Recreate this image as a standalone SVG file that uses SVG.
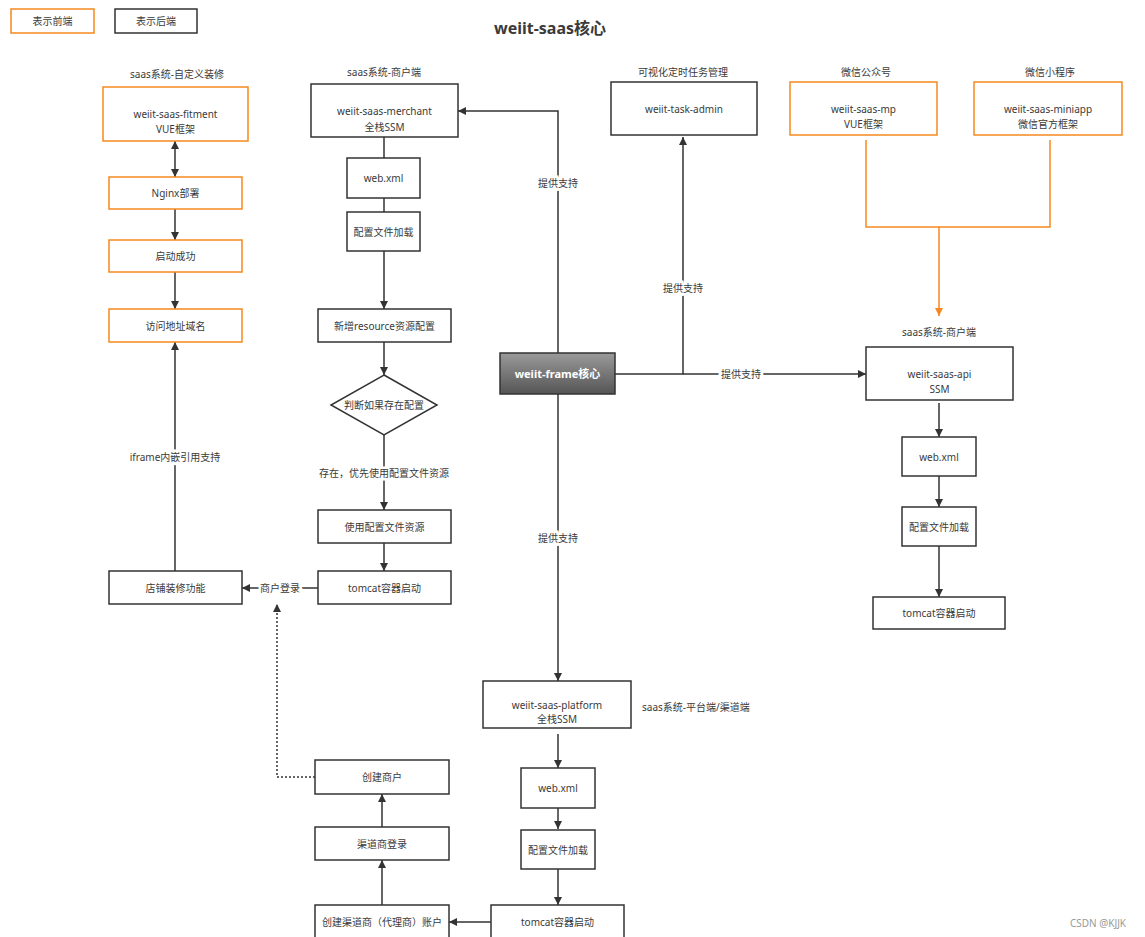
<svg xmlns="http://www.w3.org/2000/svg" width="1145" height="937" viewBox="0 0 1145 937">
<style>
text{font-family:"Noto Sans","Noto Sans CJK SC",sans-serif;font-size:10px;fill:#3a3a3a;text-anchor:middle;dominant-baseline:central}
.b{fill:#fff;stroke:#333;stroke-width:1.5}
.o{fill:#fff;stroke:#f5891f;stroke-width:1.5}
.c{fill:none;stroke:#333;stroke-width:1.5}
.a{marker-end:url(#ah)}
.oc{fill:none;stroke:#f5891f;stroke-width:1.5}
.lbl{paint-order:stroke;stroke:#fff;stroke-width:5px}
</style>
<defs>
<marker id="ah" viewBox="0 0 10 10" refX="10" refY="5" markerWidth="9" markerHeight="8" markerUnits="userSpaceOnUse" orient="auto-start-reverse"><path d="M0,0L10,5L0,10z" fill="#333"/></marker>
<marker id="aho" viewBox="0 0 10 10" refX="10" refY="5" markerWidth="9" markerHeight="8" markerUnits="userSpaceOnUse" orient="auto"><path d="M0,0L10,5L0,10z" fill="#f5891f"/></marker>
<linearGradient id="g" x1="0" y1="0" x2="0" y2="1"><stop offset="0" stop-color="#9a9a9a"/><stop offset="1" stop-color="#555"/></linearGradient>
</defs>
<rect width="1145" height="937" fill="#fff"/>
<g id="legend">
<rect class="o" x="11" y="9" width="83" height="24"/><text x="52.5" y="21">表示前端</text>
<rect class="b" x="115" y="9" width="82" height="24"/><text x="156" y="21">表示后端</text>
</g>
<text x="550" y="28" style="font-size:16px;font-weight:bold">weiit-saas核心</text>
<g id="connectors">
<path class="c a" d="M175,141V177" style="marker-start:url(#ah)"/>
<path class="c a" d="M175,209V240"/>
<path class="c a" d="M175,272V309"/>
<path class="c a" d="M175,571V342"/>
<path class="c" d="M384,137V158"/>
<path class="c" d="M384,198V212"/>
<path class="c a" d="M384,251V309"/>
<path class="c a" d="M384,342V375"/>
<path class="c a" d="M384,435V510"/>
<path class="c a" d="M384,543V571"/>
<path class="c a" d="M318,588H242"/>
<path class="c a" d="M315,777H277V604" style="stroke-dasharray:2 2"/>
<path class="c a" d="M558,353V111H458"/>
<path class="c a" d="M615,374H683V137"/>
<path class="c a" d="M683,374H866"/>
<path class="c a" d="M558,394V681"/>
<path class="oc" d="M866,140V227H1050V140"/>
<path class="oc" d="M939,227V316" marker-end="url(#aho)"/>
<path class="c a" d="M939,403V437"/>
<path class="c a" d="M939,476V507"/>
<path class="c a" d="M939,546V597"/>
<path class="c a" d="M558,734V768"/>
<path class="c a" d="M558,808V829"/>
<path class="c a" d="M558,869V905"/>
<path class="c a" d="M491,922H449"/>
<path class="c a" d="M382,905V860"/>
<path class="c a" d="M382,827V794"/>
<text class="lbl" x="175" y="457">iframe内嵌引用支持</text>
<text class="lbl" x="384" y="473">存在，优先使用配置文件资源</text>
<text class="lbl" x="280" y="588">商户登录</text>
<text class="lbl" x="558" y="183">提供支持</text>
<text class="lbl" x="683" y="288">提供支持</text>
<text class="lbl" x="741" y="374">提供支持</text>
<text class="lbl" x="558" y="538">提供支持</text>
</g>
<g id="fitment">
<text x="177" y="74">saas系统-自定义装修</text>
<rect class="o" x="103" y="87" width="145" height="54"/>
<text x="175.5" y="114">weiit-saas-fitment</text><text x="175.5" y="129">VUE框架</text>
</g>
<g id="nginx"><rect class="o" x="109" y="177" width="133" height="32"/><text x="175.5" y="193">Nginx部署</text></g>
<g id="start-ok"><rect class="o" x="109" y="240" width="133" height="32"/><text x="175.5" y="256">启动成功</text></g>
<g id="domain"><rect class="o" x="109" y="309" width="133" height="33"/><text x="175.5" y="325.5">访问地址域名</text></g>
<g id="shop-deco"><rect class="b" x="109" y="571" width="133" height="33"/><text x="175.5" y="587.5">店铺装修功能</text></g>
<g id="merchant">
<text x="384" y="72">saas系统-商户端</text>
<rect class="b" x="311" y="84" width="147" height="53"/>
<text x="384.5" y="111">weiit-saas-merchant</text><text x="384.5" y="127">全栈SSM</text>
</g>
<g id="m-webxml"><rect class="b" x="347" y="158" width="73" height="40"/><text x="383.5" y="178">web.xml</text></g>
<g id="m-config"><rect class="b" x="347" y="212" width="73" height="39"/><text x="383.5" y="231.5">配置文件加载</text></g>
<g id="m-resource"><rect class="b" x="318" y="309" width="133" height="33"/><text x="384.5" y="325.5">新增resource资源配置</text></g>
<g id="m-decision"><path class="b" d="M384,375L437,405L384,435L331,405Z"/><text x="384" y="405">判断如果存在配置</text></g>
<g id="m-use"><rect class="b" x="318" y="510" width="133" height="33"/><text x="384.5" y="526.5">使用配置文件资源</text></g>
<g id="m-tomcat"><rect class="b" x="318" y="571" width="133" height="33"/><text x="384.5" y="587.5">tomcat容器启动</text></g>
<g id="frame">
<rect x="500" y="353" width="115" height="41" fill="url(#g)" stroke="#333" stroke-width="1.5"/>
<text x="557.5" y="373.5" style="fill:#fff;font-weight:bold;font-size:11px">weiit-frame核心</text>
</g>
<g id="task-admin">
<text x="683" y="72">可视化定时任务管理</text>
<rect class="b" x="611" y="82" width="146" height="53"/><text x="684" y="109">weiit-task-admin</text>
</g>
<g id="mp">
<text x="866" y="72">微信公众号</text>
<rect class="o" x="790" y="82" width="147" height="53"/>
<text x="863.5" y="109">weiit-saas-mp</text><text x="863.5" y="124">VUE框架</text>
</g>
<g id="miniapp">
<text x="1050" y="72">微信小程序</text>
<rect class="o" x="974" y="82" width="148" height="53"/>
<text x="1048" y="109">weiit-saas-miniapp</text><text x="1048" y="124">微信官方框架</text>
</g>
<g id="api">
<text x="939" y="332">saas系统-商户端</text>
<rect class="b" x="866" y="347" width="147" height="53"/>
<text x="939.5" y="374">weiit-saas-api</text><text x="939.5" y="389">SSM</text>
</g>
<g id="a-webxml"><rect class="b" x="902" y="437" width="74" height="39"/><text x="939" y="456.5">web.xml</text></g>
<g id="a-config"><rect class="b" x="902" y="507" width="74" height="39"/><text x="939" y="526.5">配置文件加载</text></g>
<g id="a-tomcat"><rect class="b" x="873" y="597" width="132" height="32"/><text x="939" y="613">tomcat容器启动</text></g>
<g id="platform">
<rect class="b" x="483" y="681" width="148" height="47"/>
<text x="557" y="705">weiit-saas-platform</text><text x="557" y="719">全栈SSM</text>
<text x="642" y="707" style="text-anchor:start">saas系统-平台端/渠道端</text>
</g>
<g id="p-webxml"><rect class="b" x="521" y="768" width="74" height="40"/><text x="558" y="788">web.xml</text></g>
<g id="p-config"><rect class="b" x="521" y="830" width="74" height="39"/><text x="558" y="849.5">配置文件加载</text></g>
<g id="p-tomcat"><rect class="b" x="491" y="905" width="133" height="40"/><text x="557.5" y="922">tomcat容器启动</text></g>
<g id="create-agent"><rect class="b" x="315" y="905" width="134" height="40"/><text x="382" y="922">创建渠道商（代理商）账户</text></g>
<g id="agent-login"><rect class="b" x="315" y="827" width="134" height="33"/><text x="382" y="843.5">渠道商登录</text></g>
<g id="create-merchant"><rect class="b" x="315" y="760" width="134" height="34"/><text x="382" y="777">创建商户</text></g>
<text x="1098" y="923" style="fill:#999;font-size:10px">CSDN @KJJK</text>
</svg>
